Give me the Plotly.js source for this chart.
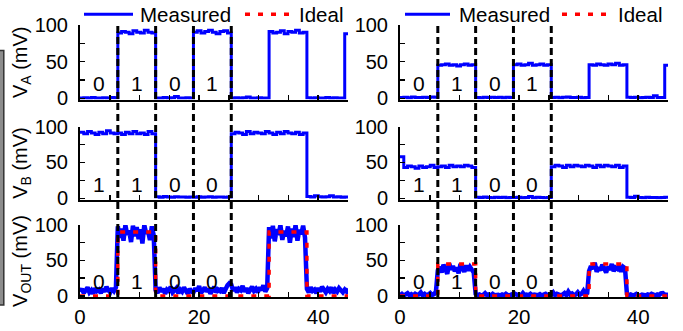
<!DOCTYPE html>
<html><head><meta charset="utf-8">
<script src="https://cdn.plot.ly/plotly-3.0.1.min.js"></script>
<style>html,body{margin:0;padding:0;background:#fff}#chart{width:683px;height:331px}</style>
</head><body><div id="chart"></div>
<script>
// round 5: x tick labels closer to the axis
const abStep = 0.635;   // time step of V_A / V_B records
const outStep = 0.3175; // time step of V_OUT records
const bitEdges = [6.35, 12.7, 19.05, 25.4];
const bitCenters = [3.175, 9.525, 15.875, 22.225];
const labelsA = ['0', '1', '0', '1'];
const labelsB = ['1', '1', '0', '0'];
const labelsOut = ['0', '1', '0', '0'];
const xTickVals = [0, 20, 40];
const xTickText = ['0', '20', '40'];
const yTickVals = [0, 50, 100];
const yTickText = ['0', '50', '100'];
const seriesNames = ['Measured', 'Ideal'];

// ---- left column (measured) ----
const vA_left = [
 0.6,0.9,0.4,1.1,0.7,0.5,1.0,0.6,1.3,0.8,
 89,91,90,88,92,90,89,93,90,89,
 0.7,0.5,1.1,0.6,0.9,2.6,0.7,0.4,1.0,0.6,
 90,92,89,91,93,90,88,91,92,89,
 0.6,1.0,0.5,0.8,1.9,0.7,0.6,0.9,0.5,0.7,
 91,89,90,92,88,91,90,93,89,90,
 0.8,0.6,1.0,0.5,0.7,1.1,0.6,0.9,0.7,0.5,
 88,89];
const vB_left = [
 92,90,93,91,89,92,90,94,91,90,
 91,89,92,90,93,90,91,89,93,90,
 2.2,1.8,2.5,2.0,1.7,2.3,1.9,2.1,1.6,2.0,
 1.8,2.2,1.6,2.0,2.4,1.7,2.1,1.9,1.5,2.0,
 90,92,91,89,93,90,92,91,90,93,
 91,89,92,90,93,91,90,92,89,91,
 2.5,2.0,3.8,2.2,1.9,2.4,3.6,2.0,2.3,1.8,
 2.1,1.9];
const vOut_left = [
 6,10,4,9,12,5,8,3,11,7,9,4,10,6,13,8,5,11,7,12,
 98,82,95,78,100,86,92,76,99,84,97,80,94,74,100,88,91,79,98,85,
 8,4,12,6,10,3,9,7,13,5,8,11,4,9,6,12,7,3,10,6,
 5,11,7,14,4,9,12,6,10,3,8,13,5,9,7,11,4,10,15,18,
 16,7,12,5,10,8,14,6,11,4,9,13,7,10,5,12,8,15,6,11,
 97,81,99,77,94,86,100,79,92,84,98,75,95,83,100,78,93,87,99,82,
 10,5,12,7,9,4,11,6,13,8,5,10,7,12,4,9,6,11,8,5,
 9,6,10];
// ---- right column (measured) ----
const vA_right = [
 1.2,1.6,1.0,1.8,1.3,1.1,1.7,1.2,2.0,1.4,
 45,46,47,45,46,44,46,47,45,46,
 1.3,1.0,1.7,1.2,1.5,1.1,1.4,1.0,1.6,1.2,
 46,47,45,46,48,45,46,47,45,46,
 1.1,1.6,1.0,1.4,2.0,1.2,1.1,1.5,1.0,1.3,
 46,45,47,46,45,47,46,48,45,46,
 1.4,1.1,1.6,1.0,1.3,1.7,1.2,3.5,1.3,1.1,
 45,46];
const vB_right = [
 58,43,45,44,42,45,43,44,46,43,
 44,45,43,46,44,45,44,46,45,43,
 1.5,1.2,2.0,1.4,1.1,1.8,1.3,1.6,1.0,1.4,
 1.2,1.6,1.0,1.4,2.8,1.1,1.5,1.3,0.9,1.4,
 44,46,45,43,46,44,46,45,44,46,
 45,43,46,44,46,45,44,46,43,45,
 1.6,1.2,3.0,1.3,1.1,1.5,1.2,1.4,1.0,1.3,
 1.5,1.2];
const vOut_right = [
 1,3,0.5,2,4,1,2.5,0.8,3,1.5,2,5,1,3,0.6,2,4,1.2,2.5,6,
 36,41,33,44,38,31,46,37,42,35,40,32,45,39,34,43,36,41,38,33,
 3,1,2,0.5,1.5,4,1,2,0.8,3,1,2,1.5,0.6,2,1,3,1.2,0.8,2,
 1,3,1.5,2,0.7,4,1,2,1.2,3,0.8,2,1.5,1,2.5,0.6,2,3,1,2,
 2,5,1,3,1.5,0.8,2,4,1,6,2,3.5,1,2,5,1.5,3,7,2,4,
 35,42,38,47,34,40,36,44,39,33,41,37,45,35,40,38,43,34,41,39,
 3,1,2,0.8,1.5,3,1,0.6,2,1.2,0.8,2,1,3,1.5,0.7,2,1,3.5,4,
 2,1,3];
// ---- ideal outputs (step transitions) ----
const idealT = [0, 6.35, 12.7, 31.75, 38.1, 45];
const ideal_left = [0, 90, 0, 90, 0, 0];
const ideal_right = [0, 45, 0, 45, 0, 0];

const FONT = 'Liberation Sans, Arial, Helvetica, sans-serif';
const BLUE = '#0000ff', RED = '#ff0000';
const IDEAL_DASH = '5px,8px';
function times(n, step) { return Array.from({length: n}, (_, i) => +(i * step).toFixed(4)); }

const traces = [];
function stepTrace(vals, xa, ya) {
  traces.push({x: times(vals.length, abStep), y: vals, xaxis: xa, yaxis: ya, mode: 'lines',
    line: {color: BLUE, width: 3, shape: 'hv'}, showlegend: false, hoverinfo: 'skip'});
}
stepTrace(vA_left, 'x', 'y');
stepTrace(vA_right, 'x2', 'y2');
stepTrace(vB_left, 'x3', 'y3');
stepTrace(vB_right, 'x4', 'y4');
traces.push({x: times(vOut_left.length, outStep), y: vOut_left, xaxis: 'x5', yaxis: 'y5', mode: 'lines',
  name: seriesNames[0], showlegend: false, line: {color: BLUE, width: 4.5}});
traces.push({x: idealT, y: ideal_left, xaxis: 'x5', yaxis: 'y5', mode: 'lines',
  name: seriesNames[1], showlegend: false, line: {color: RED, width: 3.5, dash: IDEAL_DASH, shape: 'hv'}});
traces.push({x: times(vOut_right.length, outStep), y: vOut_right, xaxis: 'x6', yaxis: 'y6', mode: 'lines',
  name: seriesNames[0], showlegend: false, line: {color: BLUE, width: 4.5}});
traces.push({x: idealT, y: ideal_right, xaxis: 'x6', yaxis: 'y6', mode: 'lines',
  name: seriesNames[1], showlegend: false, line: {color: RED, width: 3.5, dash: IDEAL_DASH, shape: 'hv'}});

const W = 683, H = 331;
const colX = [[80 / W, 348 / W], [400 / W, 668 / W]];
const rowY = [[(H - 99.5) / H, (H - 25) / H], [(H - 199.5) / H, (H - 126.5) / H], [(H - 297) / H, (H - 225) / H]];

function xax(col, row, anchor) {
  return {domain: colX[col], anchor: anchor, range: [0, 45], showline: true, linewidth: 2, linecolor: '#000',
    ticks: 'inside', ticklen: 5, tickwidth: 1.5, tickcolor: '#000', tickmode: 'array',
    tickvals: xTickVals, ticktext: xTickText, showticklabels: row === 2, ticklabelstandoff: 0,
    minor: {ticks: 'inside', tick0: 0, dtick: 5, ticklen: 5, tickwidth: 1.5, tickcolor: '#000', showgrid: false},
    showgrid: false, zeroline: false,
    tickfont: {size: 20.5, color: '#000', family: FONT}, fixedrange: true};
}
function yax(col, row, anchor, title) {
  const a = {domain: rowY[row], anchor: anchor, range: [-1.5, 100], showline: true, linewidth: 2, linecolor: '#000',
    ticks: 'inside', ticklen: 5, tickwidth: 1.5, tickcolor: '#000', tickmode: 'array',
    tickvals: yTickVals, ticktext: yTickText, ticklabelstandoff: 6,
    minor: {ticks: 'inside', tick0: 0, dtick: 25, ticklen: 5, tickwidth: 1.5, tickcolor: '#000', showgrid: false},
    showgrid: false, zeroline: false,
    tickfont: {size: 20, color: '#000', family: FONT}, fixedrange: true};
  if (title) a.title = {text: title, font: {size: 20, color: '#000', family: FONT}, standoff: 2};
  return a;
}

const annotations = [];
function rowLabels(labels, xref, yref) {
  labels.forEach((t, i) => annotations.push({text: t, x: bitCenters[i], y: 20, xref: xref, yref: yref,
    showarrow: false, font: {size: 21, color: '#000', family: FONT}}));
}
rowLabels(labelsA, 'x', 'y'); rowLabels(labelsA, 'x2', 'y2');
rowLabels(labelsB, 'x3', 'y3'); rowLabels(labelsB, 'x4', 'y4');
rowLabels(labelsOut, 'x5', 'y5'); rowLabels(labelsOut, 'x6', 'y6');

const shapes = [];
['x5', 'x6'].forEach(xr => bitEdges.forEach(e => shapes.push({type: 'line', xref: xr, yref: 'paper',
  x0: e, x1: e, y0: rowY[2][0], y1: rowY[0][1], line: {color: '#000', width: 3, dash: '7px,4px'}})));
shapes.push({type: 'rect', xref: 'paper', yref: 'paper', x0: -0.01, x1: 3.8 / W, y0: (H - 305) / H, y1: (H - 50.5) / H,
  fillcolor: '#8c8c8c', line: {color: '#333', width: 1.5}, layer: 'above'});

// ---- legends (one per column) ----
const legY = (H - 14.3) / H;
const legendSpecs = [
  {blue: [84, 133], meas: 139, red: [245, 292], ideal: 298},
  {blue: [405, 450], meas: 458, red: [562, 610], ideal: 617}
];
legendSpecs.forEach(s => {
  shapes.push({type: 'line', xref: 'paper', yref: 'paper', x0: s.blue[0] / W, x1: s.blue[1] / W, y0: legY, y1: legY,
    line: {color: BLUE, width: 3}});
  shapes.push({type: 'line', xref: 'paper', yref: 'paper', x0: s.red[0] / W, x1: s.red[1] / W, y0: legY, y1: legY,
    line: {color: RED, width: 3.5, dash: IDEAL_DASH}});
  annotations.push({text: seriesNames[0], xref: 'paper', yref: 'paper', x: (s.meas - 1) / W, y: legY,
    xanchor: 'left', yanchor: 'middle', showarrow: false, font: {size: 20.5, color: '#000', family: FONT}});
  annotations.push({text: seriesNames[1], xref: 'paper', yref: 'paper', x: (s.ideal - 1) / W, y: legY,
    xanchor: 'left', yanchor: 'middle', showarrow: false, font: {size: 20.5, color: '#000', family: FONT}});
});

const layout = {
  width: W, height: H, margin: {l: 0, r: 0, t: 0, b: 0},
  paper_bgcolor: '#fff', plot_bgcolor: 'rgba(0,0,0,0)',
  font: {family: FONT, color: '#000'}, showlegend: false,
  xaxis: xax(0, 0, 'y'), yaxis: yax(0, 0, 'x', 'V<sub>A</sub> (mV)'),
  xaxis2: xax(1, 0, 'y2'), yaxis2: yax(1, 0, 'x2'),
  xaxis3: xax(0, 1, 'y3'), yaxis3: yax(0, 1, 'x3', 'V<sub>B</sub> (mV)'),
  xaxis4: xax(1, 1, 'y4'), yaxis4: yax(1, 1, 'x4'),
  xaxis5: xax(0, 2, 'y5'), yaxis5: yax(0, 2, 'x5', 'V<sub>OUT</sub> (mV)'),
  xaxis6: xax(1, 2, 'y6'), yaxis6: yax(1, 2, 'x6'),
  annotations: annotations, shapes: shapes
};
Plotly.newPlot('chart', traces, layout, {displayModeBar: false, staticPlot: true});
</script></body></html>
